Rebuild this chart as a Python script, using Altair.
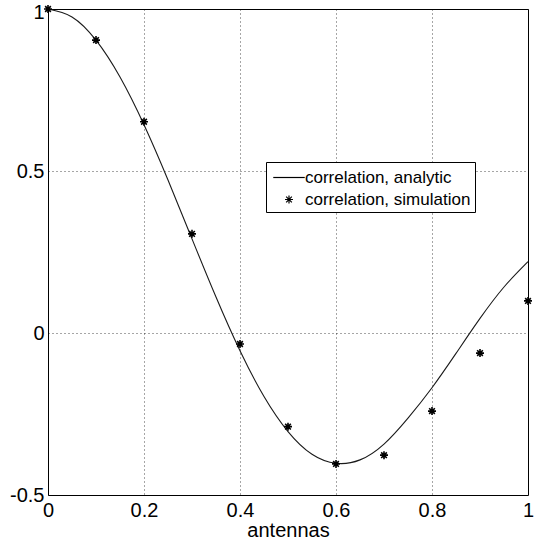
import altair as alt
import pandas as pd

# analytic correlation curve
x_analytic = [0.0, 0.05, 0.1, 0.15, 0.2, 0.25, 0.3, 0.35, 0.4, 0.45, 0.5,
              0.55, 0.6, 0.65, 0.7, 0.75, 0.8, 0.85, 0.9, 0.95, 1.0]
y_analytic = [1.0, 0.9755, 0.9037, 0.7899, 0.6425, 0.4720, 0.2906, 0.1109,
              -0.0549, -0.1960, -0.3042, -0.3743, -0.4022, -0.3916, -0.3427,
              -0.2626, -0.1689, -0.0630, 0.0450, 0.1420, 0.2203]

# simulation points
x_sim = [0.0, 0.1, 0.2, 0.3, 0.4, 0.5, 0.6, 0.7, 0.8, 0.9, 1.0]
y_sim = [1.0, 0.904, 0.652, 0.306, -0.034, -0.289, -0.404, -0.377, -0.241, -0.062, 0.099]

series = ["correlation, analytic", "correlation, simulation"]
x_ticks = [0, 0.2, 0.4, 0.6, 0.8, 1]
y_ticks = [-0.5, 0, 0.5, 1]

df_a = pd.DataFrame({"x": x_analytic, "y": y_analytic, "series": series[0]})
df_s = pd.DataFrame({"x": x_sim, "y": y_sim, "series": series[1]})

line_path = "M-1.5,0H1.5"
star_path = "M-0.38,0H0.38M0,-0.38V0.38M-0.27,-0.27L0.27,0.27M-0.27,0.27L0.27,-0.27"

xenc = alt.X("x:Q", scale=alt.Scale(domain=[0, 1], nice=False, zero=False),
             axis=alt.Axis(values=x_ticks, title="antennas", labelExpr="toString(datum.value)",
                           labelFlush=False, labelOverlap=False, labelPadding=5,
                           titlePadding=0, titleFontSize=20, titleFontWeight="normal",
                           titleFont="Liberation Sans", titleColor="black"))
yenc = alt.Y("y:Q", scale=alt.Scale(domain=[-0.5, 1], nice=False, zero=False),
             axis=alt.Axis(values=y_ticks, title=None, labelExpr="toString(datum.value)",
                           labelFlush=False, labelOverlap=False, labelPadding=4,
                           labelOffset={"condition": {"test": "datum.value == 1", "value": 3}, "value": 0}))

line = alt.Chart(df_a).mark_line(color="#1a1a1a", strokeWidth=1.1, interpolate="natural").encode(
    x=xenc, y=yenc)

pts = alt.Chart(df_s).mark_point(filled=False, color="black", strokeWidth=1.6, size=441, opacity=1).encode(
    x=xenc, y=yenc,
    shape=alt.Shape("series:N", scale=alt.Scale(domain=series, range=[line_path, star_path]),
                    legend=alt.Legend(orient="none", legendX=218, legendY=153, title=None,
                                      fillColor="white", strokeColor="black", padding=4,
                                      symbolOffset=7.5, labelOffset=4.5, labelFont="Liberation Sans",
                                      labelFontSize=17, labelColor="black", labelLimit=400,
                                      symbolSize=441, symbolStrokeWidth=1.2, symbolStrokeColor="black",
                                      rowPadding=2)))

chart = alt.layer(line, pts).properties(
    width=480, height=486,
    autosize=alt.AutoSizeParams(type="none"),
    padding={"left": 48, "top": 9, "right": 13, "bottom": 48},
    background="white",
).configure_view(stroke="black", strokeWidth=1).configure_axis(
    grid=True, gridDash=[1, 3], gridColor="black", gridOpacity=0.7, gridWidth=1,
    domain=False, ticks=False, labelFont="Liberation Sans", labelFontSize=20, labelColor="black")

chart.save("out.html", embed_options={"renderer": "svg", "actions": False})
